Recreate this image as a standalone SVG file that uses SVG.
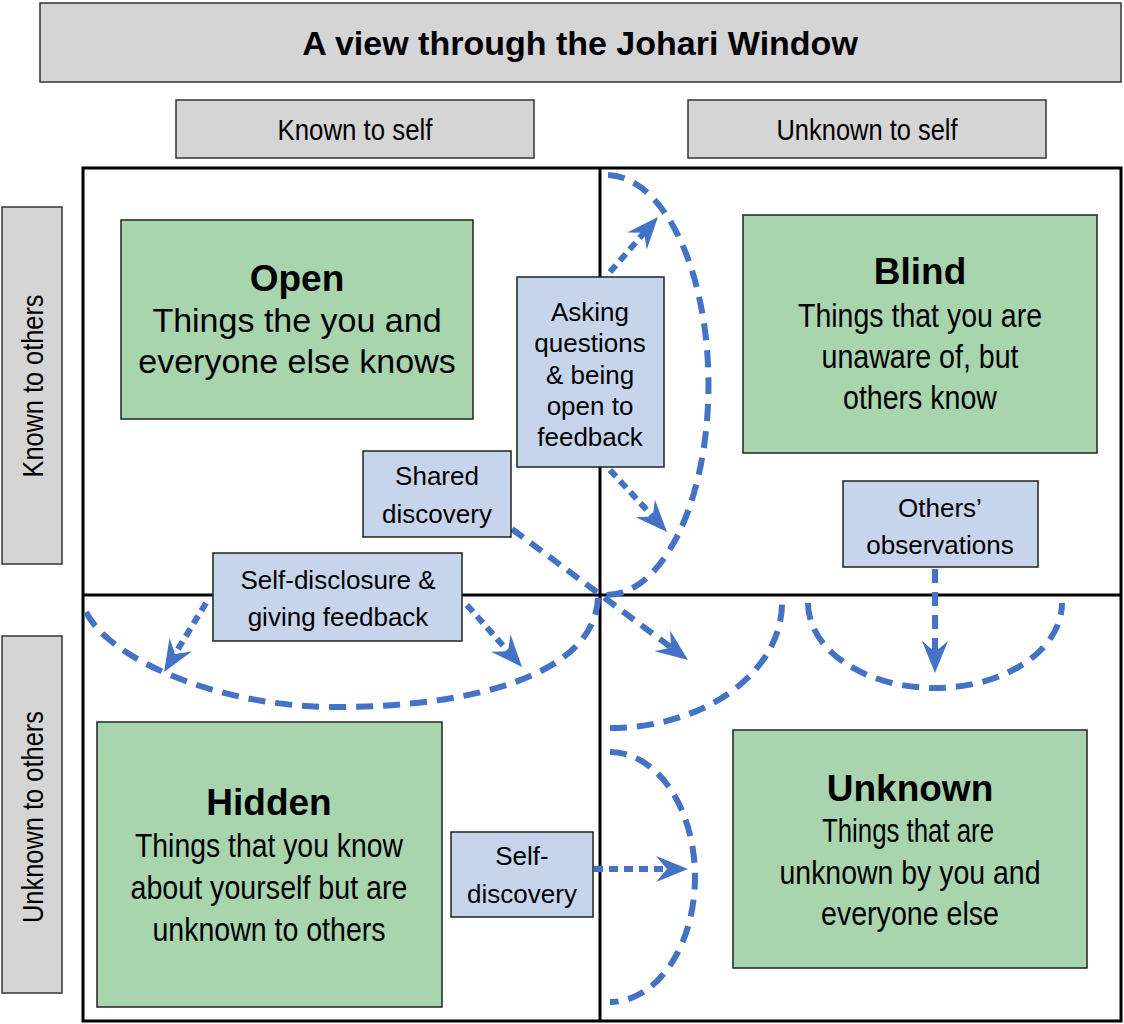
<svg xmlns="http://www.w3.org/2000/svg" width="1124" height="1024" viewBox="0 0 1124 1024">
<style>
text{font-family:"Liberation Sans",Arial,sans-serif;fill:#000;text-anchor:middle}
.hdr{fill:#d5d5d5;stroke:#333;stroke-width:1.5}
.green{fill:#a8d4ae;stroke:#222;stroke-width:1.5}
.blue{fill:#c6d5eb;stroke:#222;stroke-width:1.5}
.grid{fill:none;stroke:#000;stroke-width:3}
.t26{font-size:26px}
.t29{font-size:29px}
.t34{font-size:34px}
.b37{font-size:37px;font-weight:bold}
.arc{fill:none;stroke:#4472c4;stroke-width:6;stroke-dasharray:17 10}
.dash{fill:none;stroke:#4472c4;stroke-width:6;stroke-dasharray:14 9}
.dot{fill:none;stroke:#4472c4;stroke-width:6;stroke-dasharray:9 6}
</style>
<defs>
<marker id="ah" markerWidth="34" markerHeight="28" refX="24" refY="14" orient="auto" markerUnits="userSpaceOnUse">
<path d="M0,1 L32,14 L0,27 L11,14 Z" fill="#4472c4"/>
</marker>
</defs>
<rect width="1124" height="1024" fill="#fff"/>

<g id="title">
<rect class="hdr" x="40" y="3" width="1081" height="79"/>
<text x="580" y="55" style="font-size:34px;font-weight:bold">A view through the Johari Window</text>
</g>
<g id="known-self">
<rect class="hdr" x="176" y="100" width="358" height="58"/>
<text class="t29" x="355" y="140" textLength="155" lengthAdjust="spacingAndGlyphs">Known to self</text>
</g>
<g id="unknown-self">
<rect class="hdr" x="688" y="100" width="358" height="58"/>
<text class="t29" x="867" y="140" textLength="181" lengthAdjust="spacingAndGlyphs">Unknown to self</text>
</g>
<g id="known-others">
<rect class="hdr" x="2" y="207" width="60" height="357"/>
<text class="t29" transform="translate(43,386) rotate(-90)" textLength="183" lengthAdjust="spacingAndGlyphs">Known to others</text>
</g>
<g id="unknown-others">
<rect class="hdr" x="2" y="636" width="60" height="357"/>
<text class="t29" transform="translate(43,817) rotate(-90)" textLength="212" lengthAdjust="spacingAndGlyphs">Unknown to others</text>
</g>

<g id="grid">
<rect class="grid" x="83" y="168" width="1038" height="853"/>
<line class="grid" x1="600" y1="168" x2="600" y2="1021"/>
<line class="grid" x1="83" y1="595" x2="1121" y2="595"/>
</g>

<g id="open">
<rect class="green" x="121" y="220" width="352" height="199"/>
<text class="b37" x="297" y="291">Open</text>
<text class="t34" x="297" y="332">Things the you and</text>
<text class="t34" x="297" y="373">everyone else knows</text>
</g>
<g id="blind">
<rect class="green" x="743" y="215" width="354" height="238"/>
<text class="b37" x="920" y="284">Blind</text>
<text class="t34" x="920" y="327" textLength="244" lengthAdjust="spacingAndGlyphs">Things that you are</text>
<text class="t34" x="920" y="368" textLength="197" lengthAdjust="spacingAndGlyphs">unaware of, but</text>
<text class="t34" x="920" y="409" textLength="154" lengthAdjust="spacingAndGlyphs">others know</text>
</g>
<g id="hidden">
<rect class="green" x="97" y="722" width="345" height="285"/>
<text class="b37" x="269" y="815">Hidden</text>
<text class="t34" x="269" y="857" textLength="268" lengthAdjust="spacingAndGlyphs">Things that you know</text>
<text class="t34" x="269" y="899" textLength="277" lengthAdjust="spacingAndGlyphs">about yourself but are</text>
<text class="t34" x="269" y="941" textLength="233" lengthAdjust="spacingAndGlyphs">unknown to others</text>
</g>
<g id="unknown">
<rect class="green" x="733" y="730" width="354" height="238"/>
<text class="b37" x="910" y="801">Unknown</text>
<text class="t34" x="908" y="842" textLength="172" lengthAdjust="spacingAndGlyphs">Things that are</text>
<text class="t34" x="910" y="884" textLength="261" lengthAdjust="spacingAndGlyphs">unknown by you and</text>
<text class="t34" x="910" y="925" textLength="178" lengthAdjust="spacingAndGlyphs">everyone else</text>
</g>

<g id="connectors">
<path class="arc" d="M608,175 A102,210 0 0 1 605,595"/>
<path class="arc" d="M86,612 C110,660 220,707 335,707 C480,707 596,672 598,597"/>
<path class="arc" d="M610,728 A172,125 0 0 0 782,603"/>
<path class="arc" d="M808,603 A127,85 0 0 0 1062,603"/>
<path class="arc" d="M610,752 A85,125 0 0 1 610,1002"/>
<path class="dot" d="M610,272 L652.7,223" marker-end="url(#ah)"/>
<path class="dot" d="M610,470 L661.6,526.1" marker-end="url(#ah)"/>
<path class="dot" d="M206,603 L168.2,665.2" marker-end="url(#ah)"/>
<path class="dot" d="M467,605 L516.7,661" marker-end="url(#ah)"/>
<path class="dash" d="M512,529 L681.6,655.2" marker-end="url(#ah)"/>
<path class="dash" d="M935,569 L935,665" marker-end="url(#ah)"/>
<path class="dot" d="M594,869 L680,869" marker-end="url(#ah)"/>
</g>

<g id="asking">
<rect class="blue" x="517" y="277" width="147" height="190"/>
<text class="t26" x="590" y="321">Asking</text>
<text class="t26" x="590" y="352">questions</text>
<text class="t26" x="590" y="384">&amp; being</text>
<text class="t26" x="590" y="415">open to</text>
<text class="t26" x="590" y="446">feedback</text>
</g>
<g id="shared">
<rect class="blue" x="363" y="451" width="148" height="86"/>
<text class="t26" x="437" y="485">Shared</text>
<text class="t26" x="437" y="523">discovery</text>
</g>
<g id="self-disclosure">
<rect class="blue" x="213" y="553" width="249" height="88"/>
<text class="t26" x="338" y="589">Self-disclosure &amp;</text>
<text class="t26" x="338" y="626">giving feedback</text>
</g>
<g id="others-observations">
<rect class="blue" x="843" y="481" width="195" height="86"/>
<text class="t26" x="940" y="517">Others’</text>
<text class="t26" x="940" y="554">observations</text>
</g>
<g id="self-discovery">
<rect class="blue" x="451" y="832" width="142" height="85"/>
<text class="t26" x="522" y="865">Self-</text>
<text class="t26" x="522" y="903">discovery</text>
</g>
</svg>
